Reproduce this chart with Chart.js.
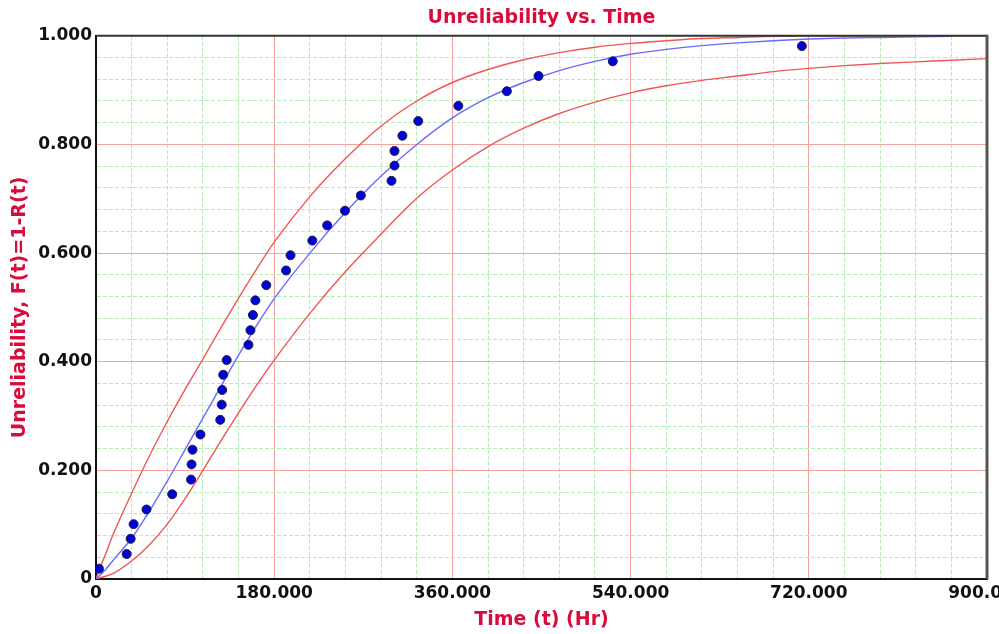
<!DOCTYPE html>
<html lang="en">
<head>
  <meta charset="UTF-8">
  <title>Unreliability vs. Time</title>
  <script src="https://cdn.jsdelivr.net/npm/chart.js"></script>
  <style>
    body { margin: 0; background: #fff; }
    #chart { display: block; }
  </style>
</head>
<body>
<canvas id="chart" width="999" height="634"></canvas>
<script>
// data points (time in Hr, unreliability)
var pointTimes = [3, 31, 35, 38, 51, 77, 96, 96.5, 97.5, 105.5, 125.5, 127, 127.5, 128.5, 132,
  154, 156, 158.5, 161, 172, 192, 196.5, 218.5, 233.5, 251.5, 267.5, 298.5, 301.5, 301.5,
  309.5, 325.5, 366, 415, 447, 522, 713];
var pointF = [0.019, 0.046, 0.074, 0.101, 0.128, 0.156, 0.183, 0.211, 0.238, 0.266, 0.293,
  0.321, 0.348, 0.376, 0.403, 0.431, 0.458, 0.486, 0.513, 0.541, 0.568, 0.596, 0.623, 0.651,
  0.678, 0.706, 0.733, 0.761, 0.788, 0.816, 0.843, 0.871, 0.898, 0.926, 0.953, 0.981];

// fitted line (blue)
var fitTimes = [0, 9, 18, 36, 54, 72, 90, 108, 126, 144, 162, 180, 216, 252, 288, 324, 360,
  396, 432, 468, 504, 540, 576, 612, 648, 684, 720, 756, 792, 828, 864];
var fitF = [0, 0.016, 0.036, 0.075, 0.125, 0.180, 0.238, 0.296, 0.354, 0.412, 0.466, 0.516,
  0.600, 0.675, 0.742, 0.800, 0.849, 0.886, 0.914, 0.936, 0.953, 0.966, 0.975, 0.982, 0.987,
  0.991, 0.994, 0.996, 0.997, 0.998, 0.999];

// upper confidence bound (red)
var upperTimes = [0, 4, 9, 18, 36, 54, 72, 90, 108, 126, 144, 162, 180, 216, 252, 288, 324,
  360, 396, 432, 468, 504, 540, 576, 612, 648, 684, 720, 900];
var upperF = [0, 0.020, 0.043, 0.085, 0.158, 0.227, 0.290, 0.349, 0.405, 0.462, 0.517, 0.570,
  0.620, 0.704, 0.774, 0.834, 0.880, 0.914, 0.938, 0.956, 0.969, 0.979, 0.986, 0.991, 0.995,
  0.997, 0.999, 1.0, 1.0];

// lower confidence bound (red)
var lowerTimes = [0, 18, 36, 54, 72, 90, 108, 126, 144, 162, 180, 216, 252, 288, 324, 360,
  396, 432, 468, 504, 540, 576, 612, 648, 684, 720, 756, 792, 828, 864, 900];
var lowerF = [0, 0.011, 0.033, 0.063, 0.101, 0.148, 0.200, 0.254, 0.306, 0.356, 0.403, 0.489,
  0.566, 0.635, 0.701, 0.753, 0.796, 0.830, 0.857, 0.878, 0.895, 0.908, 0.918, 0.926, 0.934,
  0.940, 0.945, 0.949, 0.952, 0.955, 0.958];

// axis ticks
var xMajor = [0, 180, 360, 540, 720, 900];
var xTickLabels = ['0', '180.000', '360.000', '540.000', '720.000', '900.000'];
var yMajor = [0, 0.2, 0.4, 0.6, 0.8, 1.0];
var yTickLabels = ['0', '0.200', '0.400', '0.600', '0.800', '1.000'];

function toXY(xs, ys) {
  return xs.map(function(x, i) { return { x: x, y: ys[i] }; });
}

function majorIndex(list, v) {
  for (var i = 0; i < list.length; i++) {
    if (Math.abs(list[i] - v) < 1e-6) return i;
  }
  return -1;
}

var RED = '#d80c3c';
var FONT = "'DejaVu Sans', Verdana, sans-serif";
var MAJOR_GRID = '#f6a0a0';
var MINOR_GRID = '#b6ecb6';

// outer frame of the plot area
var frame = {
  id: 'frame',
  afterDraw: function(chart) {
    var a = chart.chartArea, ctx = chart.ctx;
    ctx.save();
    ctx.strokeStyle = '#333';
    ctx.lineWidth = 2;
    ctx.beginPath();
    ctx.moveTo(a.left, a.top);
    ctx.lineTo(a.right, a.top);
    ctx.stroke();
    ctx.strokeStyle = '#555';
    ctx.lineWidth = 3;
    ctx.beginPath();
    ctx.moveTo(a.right, a.top - 1);
    ctx.lineTo(a.right, a.bottom);
    ctx.stroke();
    ctx.restore();
  }
};

new Chart(document.getElementById('chart'), {
  type: 'scatter',
  data: {
    datasets: [{
      label: 'Data',
      data: toXY(pointTimes, pointF),
      backgroundColor: '#0000d8',
      borderColor: '#202040',
      borderWidth: 1,
      pointRadius: 4.5,
      showLine: false
    }, {
      label: 'Fit',
      data: toXY(fitTimes, fitF),
      showLine: true,
      borderColor: '#6a6aff',
      borderWidth: 1.4,
      pointRadius: 0,
      cubicInterpolationMode: 'monotone'
    }, {
      label: 'Upper',
      data: toXY(upperTimes, upperF),
      showLine: true,
      borderColor: '#f25555',
      borderWidth: 1.4,
      pointRadius: 0,
      cubicInterpolationMode: 'monotone'
    }, {
      label: 'Lower',
      data: toXY(lowerTimes, lowerF),
      showLine: true,
      borderColor: '#f25555',
      borderWidth: 1.4,
      pointRadius: 0,
      cubicInterpolationMode: 'monotone'
    }]
  },
  options: {
    responsive: false,
    animation: false,
    devicePixelRatio: 1,
    layout: { padding: { left: 0, right: 12, top: 0, bottom: 0 } },
    plugins: {
      legend: { display: false },
      tooltip: { enabled: false },
      title: {
        display: true,
        text: 'Unreliability vs. Time',
        color: RED,
        fullSize: false,
        font: { family: FONT, size: 19, weight: 'bold' },
        padding: { top: 7, bottom: 6 }
      }
    },
    scales: {
      x: {
        type: 'linear',
        min: 0,
        max: 900,
        afterFit: function(s) { s.height = 55; s.paddingLeft = 0; s.paddingRight = 0; },
        ticks: {
          stepSize: 36,
          autoSkip: false,
          maxRotation: 0,
          padding: 4,
          color: '#111',
          font: { family: FONT, size: 17, weight: 'bold' },
          callback: function(v) {
            var i = majorIndex(xMajor, v);
            return i < 0 ? '' : xTickLabels[i];
          }
        },
        grid: {
          drawTicks: false,
          lineWidth: 1,
          color: function(c) {
            return majorIndex(xMajor, c.tick.value) >= 0 ? MAJOR_GRID : MINOR_GRID;
          }
        },
        border: {
          color: '#111',
          width: 2,
          dash: function(c) {
            if (!c.tick) return [];
            return majorIndex(xMajor, c.tick.value) >= 0 ? [] : [4, 2];
          }
        },
        title: {
          display: true,
          text: 'Time (t) (Hr)',
          color: RED,
          font: { family: FONT, size: 19, weight: 'bold' },
          padding: { top: 0, bottom: 3 }
        }
      },
      y: {
        type: 'linear',
        min: 0,
        max: 1,
        afterFit: function(s) { s.width = 96; s.paddingTop = 0; s.paddingBottom = 0; },
        ticks: {
          stepSize: 0.04,
          autoSkip: false,
          padding: 4,
          color: '#111',
          font: { family: FONT, size: 17, weight: 'bold' },
          callback: function(v) {
            var i = majorIndex(yMajor, v);
            return i < 0 ? '' : yTickLabels[i];
          }
        },
        grid: {
          drawTicks: false,
          lineWidth: 1,
          color: function(c) {
            return majorIndex(yMajor, c.tick.value) >= 0 ? MAJOR_GRID : MINOR_GRID;
          }
        },
        border: {
          color: '#111',
          width: 2,
          dash: function(c) {
            if (!c.tick) return [];
            return majorIndex(yMajor, c.tick.value) >= 0 ? [] : [4, 2];
          }
        },
        title: {
          display: true,
          text: 'Unreliability, F(t)=1-R(t)',
          color: RED,
          font: { family: FONT, size: 19, weight: 'bold' },
          padding: { top: 9, bottom: 0 }
        }
      }
    }
  },
  plugins: [frame]
});
</script>
</body>
</html>
